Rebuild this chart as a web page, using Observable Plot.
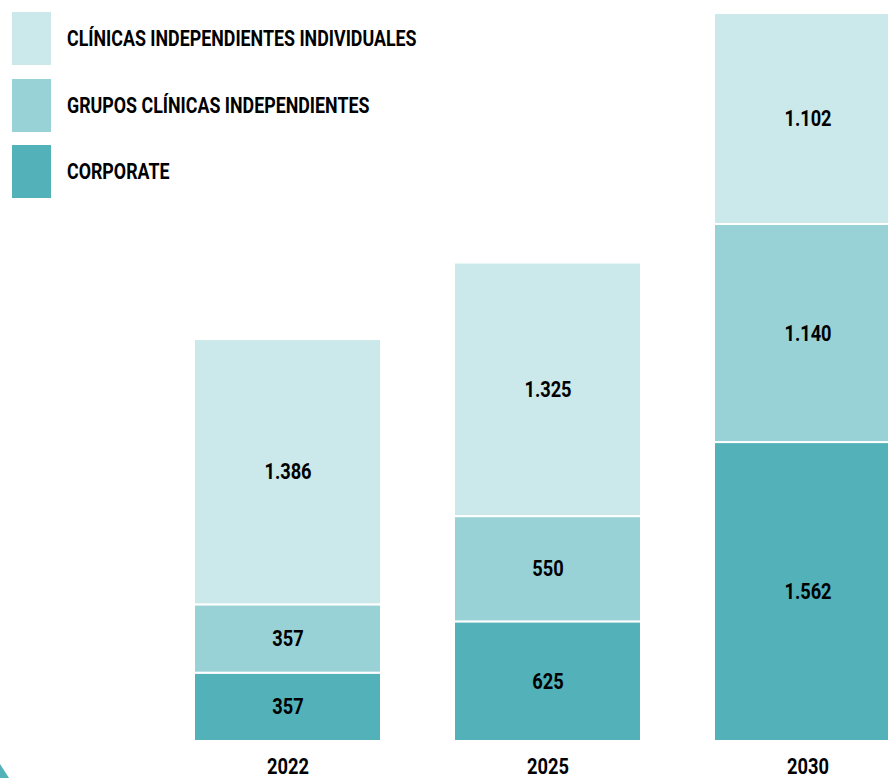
<!DOCTYPE html>
<html>
<head>
<meta charset="utf-8">
<script src="https://cdn.jsdelivr.net/npm/d3@7"></script>
<script src="https://cdn.jsdelivr.net/npm/@observablehq/plot@0.6"></script>
<style>
  html, body { margin: 0; padding: 0; background: #fff; }
  #wrap { position: relative; width: 888px; height: 778px; overflow: hidden; }
  .f { font-family: Roboto, "Noto Sans", sans-serif; font-weight: 700; }
  #legend { position: absolute; left: 12px; top: 12px; }
  .item { position: absolute; left: 0; display: flex; align-items: center; height: 53px; }
  .sw { width: 39px; height: 53px; flex: none; }
  .lab { margin-left: 16px; font-size: 22px; color: #000; white-space: nowrap; transform-origin: left center; transform: scaleX(0.81); }
  #deco { position: absolute; left: 0; top: 764px; width: 9px; height: 14px; background: #52b1b9; clip-path: polygon(0 0, 100% 100%, 0 100%); }
</style>
</head>
<body>
<div id="wrap"></div>
<script>
const years = ["2022", "2025", "2030"];
const series = ["CORPORATE", "GRUPOS CLÍNICAS INDEPENDIENTES", "CLÍNICAS INDEPENDIENTES INDIVIDUALES"];
const corporate = [357, 625, 1562];
const grupos = [357, 550, 1140];
const individuales = [1386, 1325, 1102];
const colors = ["#52b1b9", "#98d2d6", "#cbe8ea"];
const legendOrder = ["CLÍNICAS INDEPENDIENTES INDIVIDUALES", "GRUPOS CLÍNICAS INDEPENDIENTES", "CORPORATE"];

const valuesBySeries = [corporate, grupos, individuales];
const data = [];
series.forEach((s, i) => years.forEach((y, j) => data.push({year: y, series: s, value: valuesBySeries[i][j]})));

const fmt = d3.formatLocale({decimal: ",", thousands: ".", grouping: [3], currency: ["", "€"]}).format(",d");
const FONT = 'Roboto, "Noto Sans", sans-serif';
const SQUEEZE = 0.83;

const chart = Plot.plot({
  width: 888,
  height: 778,
  marginTop: 13,
  marginBottom: 37,
  marginLeft: 0,
  marginRight: 0,
  style: {fontFamily: FONT, background: "transparent", overflow: "visible"},
  x: {domain: years, range: [156, 938], paddingInner: 0.282, paddingOuter: 0.141, axis: null},
  y: {axis: null},
  color: {domain: series, range: colors},
  marks: [
    Plot.barY(data, Plot.stackY({x: "year", y: "value", fill: "series", z: "series", order: series, stroke: "#fff", strokeWidth: 2})),
    Plot.text(data, Plot.stackY({x: "year", y: "value", z: "series", order: series, text: d => fmt(d.value), fontSize: 22, fontWeight: 700, fill: "#000"})),
    Plot.text(years, {x: d => d, frameAnchor: "bottom", dy: 32, text: d => d, fontSize: 22, fontWeight: 700, fill: "#000"})
  ]
});

// condense the text horizontally around its anchor
chart.querySelectorAll("text").forEach(t => {
  const tr = t.getAttribute("transform");
  if (tr) t.setAttribute("transform", tr + ` scale(${SQUEEZE},1)`);
  else {
    const x = +t.getAttribute("x") || 0, y = +t.getAttribute("y") || 0;
    t.setAttribute("transform", `translate(${x},${y}) scale(${SQUEEZE},1)`);
    t.setAttribute("x", 0); t.setAttribute("y", 0);
  }
});

const wrap = document.getElementById("wrap");
wrap.appendChild(chart);

const legend = document.createElement("div");
legend.id = "legend";
legend.className = "f";
legendOrder.forEach((name, i) => {
  const item = document.createElement("div");
  item.className = "item";
  item.style.top = (i * 66.5) + "px";
  const sw = document.createElement("div");
  sw.className = "sw";
  sw.style.background = colors[series.indexOf(name)];
  const lab = document.createElement("div");
  lab.className = "lab";
  lab.textContent = name;
  item.appendChild(sw);
  item.appendChild(lab);
  legend.appendChild(item);
});
wrap.appendChild(legend);

const deco = document.createElement("div");
deco.id = "deco";
wrap.appendChild(deco);
</script>
</body>
</html>
